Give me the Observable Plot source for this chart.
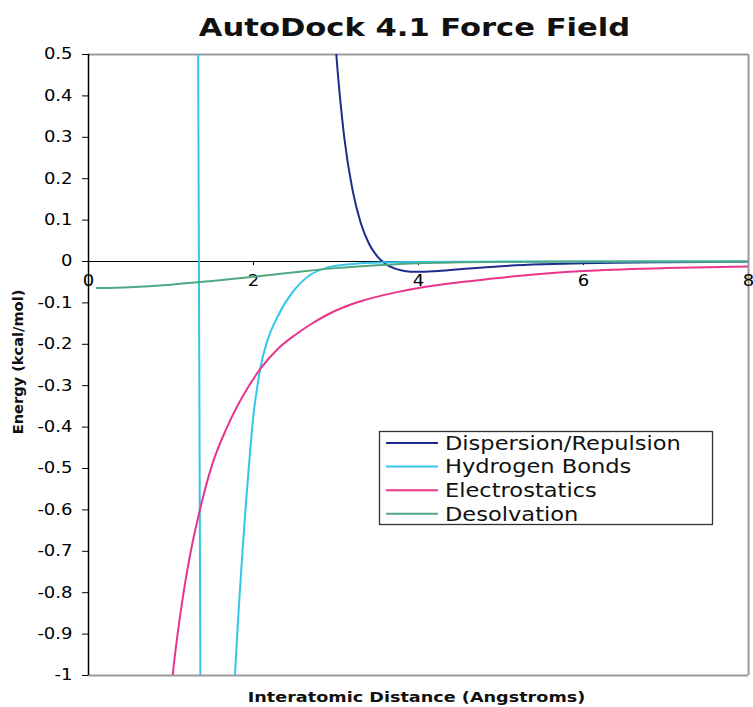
<!DOCTYPE html>
<html><head><meta charset="utf-8">
<script src="https://cdn.jsdelivr.net/npm/d3@7"></script>
<script src="https://cdn.jsdelivr.net/npm/@observablehq/plot@0.6"></script>
<style>body{margin:0;background:#fff;} #chart{width:753px;height:707px;}</style>
</head><body><div id="chart"></div>
<script>
// ---- data ----
const seriesNames = ["Dispersion/Repulsion", "Hydrogen Bonds", "Electrostatics", "Desolvation"];
const seriesColors = ["#1f2b8c", "#33c6ea", "#e8348c", "#4fa882"];

const dispX = [2.95, 3.0, 3.1, 3.2, 3.3, 3.4, 3.5, 3.6, 3.7, 3.8, 3.9, 4.0, 4.2, 4.5, 5.0, 5.5, 6.0, 7.0, 8.0];
const dispY = [0.66, 0.51, 0.30, 0.173, 0.093, 0.043, 0.0126, -0.0056, -0.016, -0.0218, -0.0245, -0.025, -0.0234, -0.0186, -0.0114, -0.0069, -0.0042, -0.0017, -0.0008];

const hbX = [1.32, 1.34, 1.36, 1.5, 1.7, 1.75, 1.775, 1.80, 1.83, 1.87, 1.91, 1.95, 2.0, 2.04, 2.085, 2.17, 2.29, 2.49, 2.69, 2.89, 3.1, 3.3, 3.6, 4.0, 5.0, 6.0, 7.0, 8.0];
const hbY = [1.0, -0.1, -1.2, -8, -2.0, -1.1, -1.0, -0.91, -0.81, -0.69, -0.58, -0.48, -0.37, -0.31, -0.255, -0.19, -0.134, -0.070, -0.032, -0.015, -0.008, -0.004, -0.002, -0.001, 0, 0, 0, 0];

const elecX = [1.0, 1.02, 1.08, 1.16, 1.24, 1.35, 1.5, 1.68, 1.88, 2.08, 2.3, 2.5, 2.7, 2.9, 3.1, 3.3, 3.74, 4.0, 4.55, 5.0, 5.36, 6.0, 7.0, 8.0];
const elecY = [-1.04, -1.0, -0.90, -0.79, -0.70, -0.60, -0.49, -0.40, -0.322, -0.260, -0.210, -0.178, -0.151, -0.128, -0.110, -0.096, -0.074, -0.064, -0.049, -0.039, -0.032, -0.023, -0.016, -0.012];

const desolvX = [0.1, 0.5, 1.0, 1.5, 2.0, 2.5, 3.0, 3.5, 4.0, 4.5, 5.0, 6.0, 7.0, 8.0];
const desolvY = [-0.064, -0.062, -0.056, -0.047, -0.037, -0.026, -0.016, -0.009, -0.004, -0.002, -0.001, 0, 0, 0];

const xTicks = [0, 2, 4, 6, 8];
const yTicks = [0.5, 0.4, 0.3, 0.2, 0.1, 0, -0.1, -0.2, -0.3, -0.4, -0.5, -0.6, -0.7, -0.8, -0.9, -1];

const titleText = "AutoDock 4.1 Force Field";
const xLabel = "Interatomic Distance (Angstroms)";
const yLabel = "Energy (kcal/mol)";

// ---- build table ----
function toRows(name, xs, ys) { return xs.map((x, i) => ({series: name, x, y: ys[i]})); }
const rows = [
  ...toRows(seriesNames[0], dispX, dispY),
  ...toRows(seriesNames[1], hbX, hbY),
  ...toRows(seriesNames[2], elecX, elecY),
  ...toRows(seriesNames[3], desolvX, desolvY)
];

const plot = Plot.plot({
  width: 753, height: 707,
  marginTop: 54, marginBottom: 32, marginLeft: 88, marginRight: 5,
  style: {background: "white", color: "#000", fontFamily: "'DejaVu Sans', Verdana, sans-serif", fontSize: "15px", overflow: "visible"},
  x: {domain: [0, 8], axis: null},
  y: {domain: [-1, 0.5]},
  color: {domain: seriesNames, range: seriesColors},
  marks: [
    Plot.ruleY([0.5, -1], {stroke: "#9a9a9a", strokeWidth: 2}),
    Plot.ruleX([8], {stroke: "#9a9a9a", strokeWidth: 2}),
    Plot.ruleY([0], {stroke: "#000", strokeWidth: 1}),
    Plot.ruleX(xTicks.slice(1, -1), {x: d => d, y1: 0, y2: 0, insetBottom: -4, stroke: "#000"}),
    Plot.text(xTicks, {x: d => d, y: 0, dy: 20, text: d => String(d), fontSize: 15, fill: "#000"}),
    Plot.axisY({ticks: yTicks, tickSize: 6, tickPadding: 10, tickFormat: d => String(d), label: null, fontSize: 15}),
    Plot.line(rows, {x: "x", y: "y", z: "series", stroke: "series", strokeWidth: 2, curve: "monotone-x", clip: true}),
    Plot.ruleX([0], {stroke: "#000", strokeWidth: 1.5}),
    Plot.text([titleText], {frameAnchor: "top", lineAnchor: "middle", dy: -27, dx: -4, text: d => d, fontSize: 25.5, fontWeight: "bold", fill: "#111"}),
    Plot.text([xLabel], {frameAnchor: "bottom", lineAnchor: "middle", dy: 22, dx: -2, text: d => d, fontSize: 14.7, fontWeight: "bold", fill: "#111"}),
    Plot.text([yLabel], {frameAnchor: "left", textAnchor: "middle", lineAnchor: "middle", dx: -70, dy: -3, rotate: -90, text: d => d, fontSize: 14.6, fontWeight: "bold", fill: "#111"})
  ]
});

// ---- legend box inside the plot ----
const svg = d3.select(plot);
const lg = svg.append("g").attr("font-family", "'DejaVu Sans', Verdana, sans-serif").attr("text-anchor", "start");
lg.append("rect").attr("x", 379.5).attr("y", 431.5).attr("width", 333).attr("height", 93)
  .attr("fill", "white").attr("stroke", "#333").attr("stroke-width", 1.3);
seriesNames.forEach((n, i) => {
  const cy = 443 + i * 23.6;
  lg.append("line").attr("x1", 386).attr("x2", 438).attr("y1", cy).attr("y2", cy)
    .attr("stroke", seriesColors[i]).attr("stroke-width", 2);
  lg.append("text").attr("x", 445).attr("y", cy).attr("dy", "0.36em").attr("text-anchor", "start")
    .attr("font-size", 18.8).attr("fill", "#111").text(n);
});

document.getElementById("chart").appendChild(plot);

// the reference's glyphs are horizontally stretched; mimic that on horizontal texts
plot.querySelectorAll("text").forEach(t => {
  if ((t.getAttribute("transform") || "").includes("rotate")) return;
  const L = t.getComputedTextLength();
  if (L > 0) {
    t.setAttribute("textLength", L * 1.2);
    t.setAttribute("lengthAdjust", "spacingAndGlyphs");
  }
});
</script>
</body></html>
